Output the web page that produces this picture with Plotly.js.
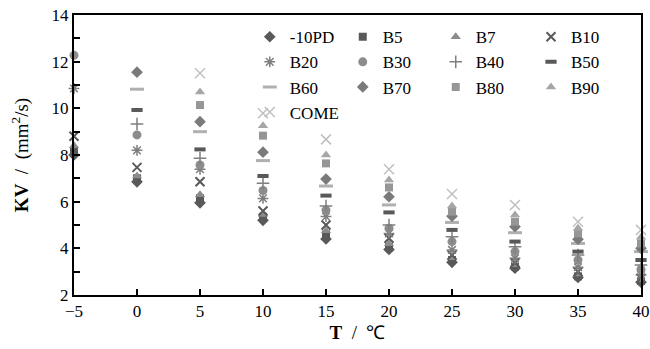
<!DOCTYPE html>
<html>
<head>
<meta charset="utf-8">
<script src="https://cdn.plot.ly/plotly-3.0.1.min.js"></script>
<style>html,body{margin:0;padding:0;background:#fff;}#chart{width:650px;height:349px;}</style>
</head>
<body>
<div id="chart"></div>
<script>
// Temperatures (°C)
const T_all = [-5, 0, 5, 10, 15, 20, 25, 30, 35, 40];
const T_from0 = [0, 5, 10, 15, 20, 25, 30, 35, 40];
const T_from5 = [5, 10, 15, 20, 25, 30, 35, 40];

// Kinematic viscosity (mm²/s) per fuel
const kv_10PD = [8.0, 6.85, 5.95, 5.2, 4.4, 3.95, 3.4, 3.15, 2.75, 2.55];
const kv_B5   = [8.2, 7.0, 6.15, 5.35, 4.6, 4.05, 3.5, 3.22, 2.8, 2.6];
const kv_B7   = [8.4, 7.1, 6.3, 5.45, 4.75, 4.2, 3.6, 3.3, 2.9, 2.65];
const kv_B10  = [8.8, 7.47, 6.85, 5.6, 5.0, 4.43, 3.71, 3.38, 3.0, 2.72];
const kv_B20  = [10.85, 8.2, 7.39, 6.14, 5.36, 4.64, 3.93, 3.57, 3.19, 2.86];
const kv_B30  = [12.27, 8.86, 7.57, 6.48, 5.64, 4.86, 4.29, 3.86, 3.5, 3.1];
const kv_B40  = [9.33, 7.86, 6.79, 5.81, 5.0, 4.5, 4.07, 3.71, 3.29];
const kv_B50  = [9.93, 8.24, 7.1, 6.26, 5.54, 4.79, 4.29, 3.86, 3.5];
const kv_B60  = [10.82, 9.0, 7.76, 6.67, 5.86, 5.11, 4.67, 4.21, 3.86];
const kv_B70  = [11.55, 9.43, 8.12, 6.97, 6.21, 5.38, 4.93, 4.39, 4.0];
const kv_B80  = [10.14, 8.83, 7.64, 6.61, 5.57, 5.14, 4.64, 4.21];
const kv_B90  = [10.7, 9.25, 8.0, 6.93, 5.81, 5.43, 4.86, 4.47];
const kv_COME = [11.5, 9.79, 8.67, 7.39, 6.33, 5.86, 5.14, 4.79];

const seriesNames = ['-10PD','B5','B7','B10','B20','B30','B40','B50','B60','B70','B80','B90','COME'];
const seriesX = [T_all, T_all, T_all, T_all, T_all, T_all, T_from0, T_from0, T_from0, T_from0, T_from5, T_from5, T_from5];
const seriesY = [kv_10PD, kv_B5, kv_B7, kv_B10, kv_B20, kv_B30, kv_B40, kv_B50, kv_B60, kv_B70, kv_B80, kv_B90, kv_COME];

const styles = [
  {symbol:'diamond', color:'#595959', size:9},
  {symbol:'square', color:'#595959', size:8},
  {symbol:'triangle-up', color:'#8c8c8c', size:9},
  {symbol:'x-thin-open', color:'#595959', size:9, lw:2},
  {symbol:'asterisk-open', color:'#7f7f7f', size:9, lw:1.5},
  {symbol:'circle', color:'#8c8c8c', size:9},
  {symbol:'cross-thin-open', color:'#7f7f7f', size:9, lw:1.5},
  {symbol:'line-ew-open', color:'#595959', size:8, lw:4},
  {symbol:'line-ew-open', color:'#b0b0b0', size:10, lw:3},
  {symbol:'diamond', color:'#7a7a7a', size:9},
  {symbol:'square', color:'#969696', size:8},
  {symbol:'triangle-up', color:'#a6a6a6', size:9},
  {symbol:'x-thin-open', color:'#c0c0c0', size:10, lw:1.5}
];

const legendIds = ['legend','legend2','legend3','legend4'];

const traces = seriesNames.map((n, i) => {
  const s = styles[i];
  const m = {symbol: s.symbol, color: s.color, size: s.size};
  if (s.lw) m.line = {color: s.color, width: s.lw};
  return {x: seriesX[i], y: seriesY[i], name: n, type: 'scatter', mode: 'markers',
          marker: m, cliponaxis: false, legend: legendIds[i % 4]};
});

const fam = '"Liberation Serif", "Times New Roman", serif';
const legendBase = (xp) => ({
  orientation: 'v', x: xp, xanchor: 'left', y: 0.985, yanchor: 'top',
  font: {family: fam, size: 17, color: '#000'},
  bgcolor: 'rgba(0,0,0,0)', borderwidth: 0, tracegroupgap: 0
});

const layout = {
  width: 650, height: 349,
  margin: {l: 74, r: 9, t: 15, b: 54},
  paper_bgcolor: '#fff', plot_bgcolor: '#fff',
  font: {family: fam, size: 17, color: '#000'},
  showlegend: true,
  legend: legendBase(0.31),
  legend2: legendBase(0.474),
  legend3: legendBase(0.638),
  legend4: legendBase(0.806),
  xaxis: {
    range: [-5, 40], dtick: 5, tick0: 0,
    ticks: 'inside', ticklen: 6, tickwidth: 2, tickcolor: '#000',
    showline: true, linewidth: 2, linecolor: '#000', mirror: true,
    showgrid: false, zeroline: false,
    title: {text: '<b>T</b>  /  ℃', font: {family: fam, size: 19}, standoff: 5},
    tickfont: {family: fam, size: 17}
  },
  yaxis: {
    range: [2, 14], dtick: 2, tick0: 0,
    ticks: 'inside', ticklen: 6, tickwidth: 2, tickcolor: '#000',
    minor: {dtick: 1, ticks: 'inside', ticklen: 6, tickwidth: 2, tickcolor: '#000'},
    showline: true, linewidth: 2, linecolor: '#000', mirror: true,
    showgrid: false, zeroline: false,
    title: {text: '<b>KV</b>  /  (mm<sup>2</sup>/s)', font: {family: fam, size: 19}, standoff: 18},
    tickfont: {family: fam, size: 17}
  }
};

Plotly.newPlot('chart', traces, layout, {displayModeBar: false, staticPlot: true});
</script>
</body>
</html>
